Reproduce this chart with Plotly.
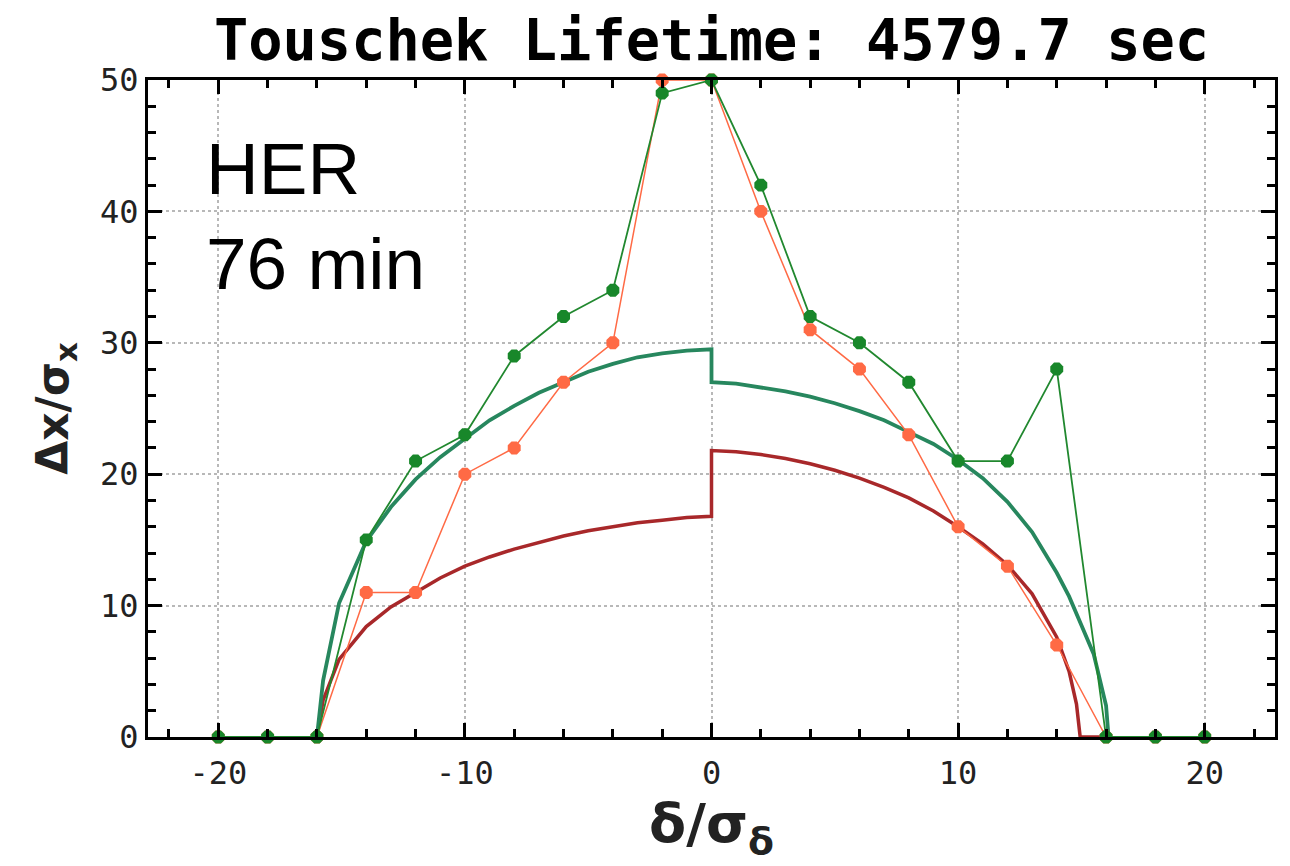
import plotly.graph_objects as go

# Tracked particle data (markers every 2 sigma in delta)
delta_pts = [-20, -18, -16, -14, -12, -10, -8, -6, -4, -2, 0, 2, 4, 6, 8, 10, 12, 14, 16, 18, 20]
green_pts = [0, 0, 0, 15, 21, 23, 29, 32, 34, 49, 50, 42, 32, 30, 27, 21, 21, 28, 0, 0, 0]
orange_pts = [0, 0, 0, 11, 11, 20, 22, 27, 30, 50, 50, 40, 31, 28, 23, 16, 13, 7, 0, 0, 0]

# Aperture curves
green_curve_x = [-16, -15.75, -15.1, -14, -13, -12, -11, -10, -9, -8, -7, -6, -5, -4, -3, -2, -1, 0,
                 0, 1, 2, 3, 4, 5, 6, 7, 8, 9, 10, 11, 12, 13, 14, 14.5, 15, 15.5, 16, 16.1]
green_curve_y = [0, 4.3, 10.2, 14.9, 17.5, 19.6, 21.3, 22.7, 24.1, 25.2, 26.2, 27.0, 27.8, 28.4, 28.9, 29.2, 29.4, 29.5,
                 27.0, 26.9, 26.6, 26.3, 25.9, 25.4, 24.8, 24.1, 23.2, 22.3, 21.1, 19.7, 17.9, 15.6, 12.5, 10.7, 8.5, 6.3, 2.4, 0]

red_curve_x = [-16, -15.75, -15.1, -14, -13, -12, -11, -10, -9, -8, -7, -6, -5, -4, -3, -2, -1, 0,
               0, 1, 2, 3, 4, 5, 6, 7, 8, 9, 10, 11, 12, 13, 14, 14.5, 14.8, 14.95, 16]
red_curve_y = [0, 2.8, 5.9, 8.4, 9.9, 11.0, 12.1, 13.0, 13.7, 14.3, 14.8, 15.3, 15.7, 16.0, 16.3, 16.5, 16.7, 16.8,
               21.8, 21.7, 21.5, 21.2, 20.8, 20.3, 19.7, 19.0, 18.2, 17.2, 16.0, 14.7, 13.1, 10.9, 7.6, 5.0, 2.5, 0, 0]

x_ticks = [-20, -10, 0, 10, 20]
y_ticks = [0, 10, 20, 30, 40, 50]

title_text = "Touschek Lifetime: 4579.7 sec"
note_text = "HER<br>76 min"

fig = go.Figure()

fig.add_trace(go.Scatter(x=red_curve_x, y=red_curve_y, mode="lines",
                         line=dict(color="#a8282a", width=3.5), cliponaxis=False, hoverinfo="skip"))
fig.add_trace(go.Scatter(x=green_curve_x, y=green_curve_y, mode="lines",
                         line=dict(color="#27875e", width=3.8), cliponaxis=False, hoverinfo="skip"))
fig.add_trace(go.Scatter(x=delta_pts, y=orange_pts, mode="lines+markers",
                         line=dict(color="#ff6a45", width=1.5),
                         marker=dict(color="#ff6a45", size=14, symbol="octagon"), cliponaxis=False))
fig.add_trace(go.Scatter(x=delta_pts, y=green_pts, mode="lines+markers",
                         line=dict(color="#21882f", width=1.8),
                         marker=dict(color="#18872a", size=14, symbol="octagon"), cliponaxis=False))

axis_common = dict(
    showline=True, linecolor="black", linewidth=3, mirror="ticks",
    ticks="inside", ticklen=14, tickwidth=3, tickcolor="black",
    showgrid=True, gridcolor="#b8b8b8", griddash="dot", gridwidth=1.5,
    zeroline=False,
    tickfont=dict(family="DejaVu Sans Mono", size=32, color="#222"),
    minor=dict(ticks="inside", ticklen=8, tickwidth=2.5, tickcolor="black", dtick=2, showgrid=False),
)

fig.update_xaxes(range=[-22.85, 22.85], tickvals=x_ticks, ticktext=[str(v) for v in x_ticks],
                 ticklabelstandoff=6,
                 title=dict(text="δ/σ<sub>δ</sub>", font=dict(family="DejaVu Sans", size=54, color="#222", weight="bold"),
                            standoff=0),
                 **axis_common)
fig.update_yaxes(range=[0, 50], tickvals=y_ticks, ticktext=[str(v) for v in y_ticks],
                 title=dict(text="Δx/σ<sub>x</sub>", font=dict(family="DejaVu Sans", size=44, color="#222", weight="bold"),
                            standoff=18),
                 **axis_common)

fig.add_annotation(text=note_text, xref="paper", yref="paper", x=0.05, y=0.93,
                   xanchor="left", yanchor="top", align="left", showarrow=False,
                   font=dict(family="Liberation Sans", size=73, color="black"))

fig.update_layout(
    width=1290, height=866,
    margin=dict(l=140, r=23, t=72, b=137),
    paper_bgcolor="white", plot_bgcolor="white",
    showlegend=False,
    title=dict(text=title_text, x=0.5, xref="paper", xanchor="center",
               y=0.963, yref="container", yanchor="middle",
               font=dict(family="DejaVu Sans Mono", size=57, color="black", weight="bold")),
)

fig.write_html("out.html")
